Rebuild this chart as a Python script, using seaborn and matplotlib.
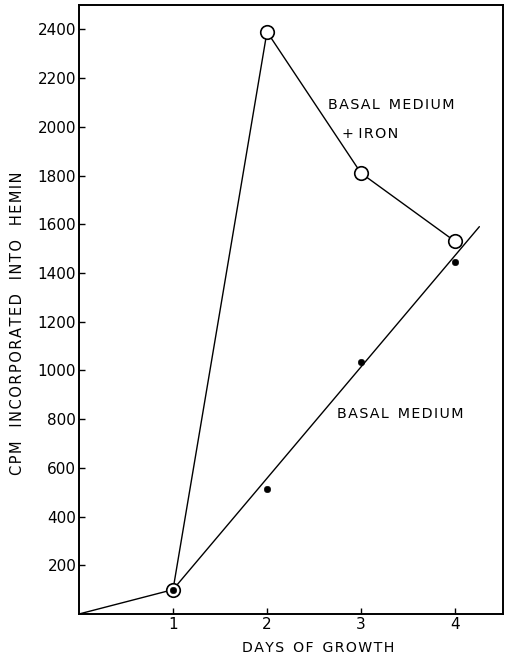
import matplotlib
matplotlib.use("Agg")
import matplotlib.pyplot as plt
import seaborn as sns
import pandas as pd

# Hemin labelling over days of growth
iron_days = [0, 1, 2, 3, 4]
iron_cpm = [0, 100, 2390, 1810, 1530]

basal_days = [1, 2, 3, 4]
basal_cpm = [100, 515, 1035, 1445]

# fitted straight line through the basal-medium points
fit_days = [1, 4.26]
fit_cpm = [100, 1590]

x_ticks = [1, 2, 3, 4]
y_ticks = [200, 400, 600, 800, 1000, 1200, 1400, 1600, 1800, 2000, 2200, 2400]


def spaced(words, gap="  "):
    """Letter-spaced lettering, like stencilled captions."""
    return gap.join("\u200a".join(w) for w in words)


sns.set_theme(style="ticks")
plt.rcParams["font.family"] = ["DejaVu Sans"]
plt.rcParams["text.color"] = "black"

fig = plt.figure(figsize=(5.1, 6.58), dpi=100)
ax = fig.add_axes([0.155, 0.0669, 0.831, 0.9255])

iron = pd.DataFrame({"day": iron_days, "cpm": iron_cpm})
basal = pd.DataFrame({"day": basal_days, "cpm": basal_cpm})
fit = pd.DataFrame({"day": fit_days, "cpm": fit_cpm})

sns.lineplot(data=iron, x="day", y="cpm", ax=ax, color="black", lw=1.0,
             sort=False, legend=False)
sns.lineplot(data=fit, x="day", y="cpm", ax=ax, color="black", lw=1.0,
             legend=False)
sns.scatterplot(data=iron[iron["day"] >= 1], x="day", y="cpm", ax=ax,
                s=95, facecolor="white", edgecolor="black", linewidth=1.2,
                zorder=3, legend=False)
sns.scatterplot(data=basal, x="day", y="cpm", ax=ax, s=22, color="black",
                edgecolor="black", zorder=4, legend=False)

ax.set_xlim(0, 4.51)
ax.set_ylim(0, 2500)
ax.set_xticks(x_ticks)
ax.set_yticks(y_ticks)
ax.set_xticklabels([str(v) for v in x_ticks])
ax.set_yticklabels([str(v) for v in y_ticks])
ax.tick_params(direction="in", length=4, width=1.0, labelsize=11,
               colors="black", pad=2)

for sp in ax.spines.values():
    sp.set_visible(True)
    sp.set_linewidth(1.4)
    sp.set_color("black")

ax.set_xlabel("")
ax.set_ylabel("")
fig.text(0.035, 0.508, spaced(["CPM", "INCORPORATED", "INTO", "HEMIN"], "   "),
         rotation=90, ha="center", va="center", fontsize=10.5, color="black")
fig.text(0.624, 0.015, spaced(["DAYS", "OF", "GROWTH"]),
         ha="center", va="center", fontsize=10.2, color="black")

ax.text(2.65, 2090, spaced(["BASAL", "MEDIUM"]),
        fontsize=10.3, ha="left", va="center", color="black")
ax.text(2.8, 1970, "+ " + spaced(["IRON"]), fontsize=10.3, ha="left",
        va="center", color="black")
ax.text(2.75, 820, spaced(["BASAL", "MEDIUM"]),
        fontsize=10.3, ha="left", va="center", color="black")

fig.savefig("out.png", dpi=100, facecolor="white")
